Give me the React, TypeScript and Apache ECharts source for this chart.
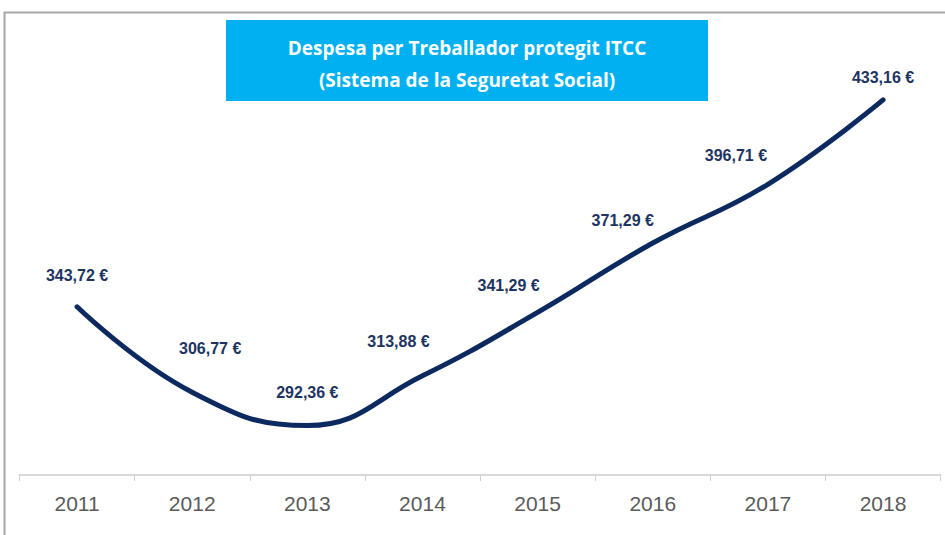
import React, { useEffect, useRef } from "react";
import * as echarts from "echarts";

const years = ["2011", "2012", "2013", "2014", "2015", "2016", "2017", "2018"];
const values = [343.72, 306.77, 292.36, 313.88, 341.29, 371.29, 396.71, 433.16];
const titleLines = ["Despesa per Treballador protegit ITCC", "(Sistema de la Seguretat Social)"];
// label offsets [dx, dy] relative to point (styling)
const labelOffsets: [number, number][] = [
  [0, -31], [18, -44], [0, -33], [-24, -34], [-29, -27], [-30, -23], [-32, -29], [0, -22],
];

const fmt = (v: number) => v.toFixed(2).replace(".", ",") + " €";

export default function App() {
  const ref = useRef<HTMLDivElement>(null);
  useEffect(() => {
    if (!ref.current) return;
    const chart = echarts.init(ref.current, null, { renderer: "svg" });
    chart.setOption({
      animation: false,
      backgroundColor: "#ffffff",
      grid: { left: 19.5, right: 4.4, top: 61, bottom: 60 },
      xAxis: {
        type: "category",
        data: years,
        boundaryGap: true,
        axisLine: { lineStyle: { color: "#d9d9d9", width: 2 } },
        axisTick: { show: true, length: 6, lineStyle: { color: "#d0d0d0", width: 1 } },
        axisLabel: {
          color: "#5a5a5a",
          fontSize: 21,
          fontFamily: "'Liberation Sans', Arial, sans-serif",
          margin: 18,
        },
      },
      yAxis: {
        type: "value",
        min: 271,
        max: 450,
        show: false,
        splitLine: { show: false },
      },
      series: [
        {
          type: "line",
          data: values.map((v, i) => ({
            value: v,
            label: { offset: labelOffsets[i] },
          })),
          smooth: 0.45,
          symbol: "circle",
          symbolSize: 1,
          showSymbol: true,
          itemStyle: { color: "rgba(0,0,0,0)" },
          lineStyle: { color: "#0c2a60", width: 5, cap: "round" },
          label: {
            show: true,
            position: "inside",
            formatter: (p: any) => fmt(p.value),
            color: "#1d3461",
            fontSize: 16,
            fontWeight: "bold",
            fontFamily: "'Liberation Sans', Arial, sans-serif",
          },
        },
      ],
      graphic: [
        {
          type: "line",
          shape: { x1: 4, y1: 12.5, x2: 945, y2: 12.5 },
          style: { stroke: "#a6a6a6", lineWidth: 2 },
        },
        {
          type: "line",
          shape: { x1: 4.5, y1: 12, x2: 4.5, y2: 535 },
          style: { stroke: "#a6a6a6", lineWidth: 2 },
        },
        {
          type: "rect",
          shape: { x: 226, y: 20, width: 482, height: 81 },
          style: { fill: "#00b0f0" },
        },
        {
          type: "text",
          x: 467,
          y: 48,
          style: {
            text: titleLines[0],
            fill: "#ffffff",
            font: "bold 19px 'Open Sans', sans-serif",
            align: "center",
            verticalAlign: "middle",
          },
        },
        {
          type: "text",
          x: 467,
          y: 80,
          style: {
            text: titleLines[1],
            fill: "#ffffff",
            font: "bold 19px 'Open Sans', sans-serif",
            align: "center",
            verticalAlign: "middle",
          },
        },
      ],
    });
    return () => chart.dispose();
  }, []);
  return (
    <div
      ref={ref}
      style={{ position: "absolute", left: 0, top: 0, width: 945, height: 535 }}
    />
  );
}
